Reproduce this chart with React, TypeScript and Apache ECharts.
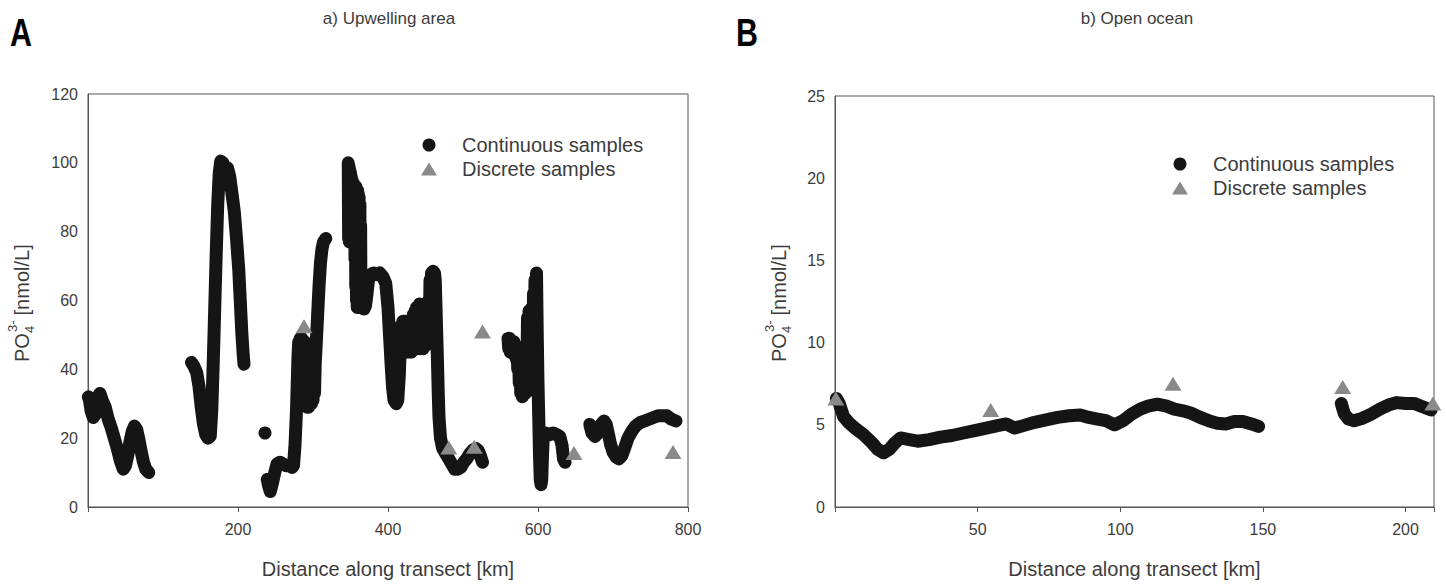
import React, { useEffect, useRef } from "react";
import * as echarts from "echarts";

const FONT = "'Liberation Sans', Arial, Helvetica, sans-serif";
const TEXT = "#3c3c3c";
const AXIS = "#555555";
const DOT = "#151515";
const TRI = "#8a8a8a";

// ---------- Panel A: Upwelling area ----------
const upwellingXTicks = [0, 200, 400, 600, 800];
const upwellingYTicks = [0, 20, 40, 60, 80, 100, 120];

const upwellingSeg1 = [
  [0.5, 32], [2, 31], [4, 28], [7, 26], [10, 27], [13, 32], [16, 33], [19, 31], [23, 29],
  [27, 25.5], [31, 23], [35, 20], [39, 17], [43, 13.5], [47, 11], [50, 12], [53, 15],
  [56, 19], [59, 22], [62, 23.5], [65, 22.5], [68, 19.5], [71, 16], [74, 13], [77, 11],
  [81, 10],
];
const upwellingSeg2 = [
  [138, 42], [141, 41], [145, 39], [148, 35], [151, 29], [154, 24], [157, 21], [160, 20],
  [163, 20.5], [165, 28], [167, 42], [169, 58], [171, 74], [173, 88], [175, 97], [177, 100.5],
  [180, 100], [183, 98], [186, 98.5], [189, 96], [192, 91], [195, 86], [198, 78], [201, 69],
  [203, 60], [205, 51], [207, 44], [208, 41.5],
];
const upwellingIsolated = [[236, 21.5]];
const upwellingSeg4 = [
  [239, 8], [241, 6], [243, 4.5], [246, 7], [249, 10], [252, 12.5], [256, 13],
  [260, 12.5], [264, 12], [268, 12], [272, 11.5], [274, 12], [276, 18], [278, 28], [279, 36],
  [280, 44], [281, 48], [282, 36], [283, 49], [284, 34], [285, 49], [286, 32], [287, 48],
  [288, 31], [289, 48], [290, 30], [291, 47], [292, 29], [293, 46], [294, 29], [295, 44],
  [296, 30], [297, 43], [298, 30], [299, 40], [300, 31], [301, 38], [302, 33], [303, 42],
  [304, 46], [306, 55], [308, 64], [310, 71], [312, 75], [314, 77], [317, 78],
];
const upwellingSeg5 = [
  [347, 100], [347.5, 78], [348, 99], [348.5, 77], [349, 98], [349.5, 77], [350, 97],
  [350.5, 77], [351, 96], [351.5, 77], [352, 95], [352.5, 77], [353, 94], [353.5, 78],
  [354, 94], [355, 80], [355.5, 93], [356, 72], [356.5, 93], [357, 64], [357.5, 93], [358, 60],
  [358.5, 92], [359, 58], [359.5, 92], [360, 58], [360.5, 91], [361, 58], [361.5, 90],
  [362, 58], [362.5, 88], [363, 58], [363.5, 82], [364, 58], [365, 66], [366, 58],
  [368, 57.5], [370, 58.5], [372, 62], [374, 66], [377, 67.5], [381, 68],
  [385, 67.5], [389, 68], [393, 67], [397, 65], [400, 58], [402, 50], [404, 42], [406, 35],
  [408, 31], [411, 30], [413, 31], [415, 38], [416, 44], [417, 50], [418, 53], [419, 46],
  [420, 54], [421, 46], [422, 54], [423, 45], [424, 54], [425, 46], [426, 53], [427, 45],
  [428, 52], [429, 46], [430, 50], [431, 45], [432, 53], [433, 46], [434, 56], [435, 46],
  [436, 57], [437, 47], [438, 58], [439, 46], [440, 58], [441, 47], [442, 59], [443, 46],
  [444, 58], [445, 47], [446, 58], [447, 46], [448, 57], [449, 47], [450, 58], [451, 47],
  [452, 56], [453, 48], [454, 60], [455, 50], [456, 66], [457, 55], [458, 68], [460, 68.5],
  [462, 68], [463, 66], [464, 58], [465, 50], [466, 42], [467, 33], [468, 26], [470, 20],
  [473, 17], [477, 15.5], [481, 14], [485, 12.5], [489, 11], [493, 11], [497, 11.5],
  [501, 13], [505, 14], [509, 15.5], [513, 16.5], [517, 17], [520, 16.5], [523, 15], [526, 13],
];
const upwellingSeg6 = [
  [560, 49], [561, 46], [562, 49], [563, 45], [564, 48.5], [565, 45], [566, 48], [567, 44.5],
  [568, 48], [569, 44], [570, 47], [571, 43], [572, 46], [573, 40], [574, 45], [575, 36],
  [576, 43], [577, 33], [578, 40], [579, 32], [580, 37], [581, 33], [582, 36], [583, 33],
  [584, 45], [585, 34], [586, 55], [587, 35], [588, 57], [589, 36], [590, 56], [591, 34],
  [592, 58], [593, 40], [594, 62], [595, 45], [596, 66], [597, 55], [598, 68], [599, 50],
  [600, 36], [601, 26], [602, 15], [603, 8], [604, 6.5], [605, 8], [606, 15], [607, 20],
  [610, 21.5], [615, 21], [620, 21.5], [625, 21], [629, 20.5], [632, 18], [634, 14], [636, 13],
];
const upwellingSeg7 = [
  [669, 24], [672, 21.5], [676, 20.5], [680, 21.5], [684, 24], [688, 25], [691, 24], [694, 21],
  [697, 18], [700, 16], [704, 14.5], [708, 14], [712, 15], [716, 17.5], [720, 20], [725, 22],
  [730, 23.5], [736, 24.5], [742, 25], [748, 25.5], [754, 26], [760, 26.5], [766, 26.5],
  [772, 26.5], [778, 25.5], [784, 25],
];
const upwellingDiscrete = [
  [288, 52.5], [481, 17.3], [515, 17.5], [526, 51], [648, 15.7], [780, 16],
];

// ---------- Panel B: Open ocean ----------
const oceanXTicks = [0, 50, 100, 150, 200];
const oceanXMax = 210;
const oceanYTicks = [0, 5, 10, 15, 20, 25];

const oceanSeg1 = [
  [0.5, 6.6], [1.5, 6.3], [3, 5.5], [5, 5.1], [7, 4.8], [10, 4.4], [13, 3.9], [15, 3.5],
  [17, 3.3], [19, 3.5], [21, 3.9], [23, 4.2], [26, 4.1], [29, 4.0], [33, 4.1], [37, 4.25],
  [41, 4.35], [45, 4.5], [49, 4.65], [53, 4.8], [57, 4.95], [60, 5.05], [63, 4.8], [66, 4.95],
  [70, 5.15], [74, 5.3], [78, 5.45], [82, 5.55], [86, 5.6], [89, 5.45], [92, 5.35], [95, 5.25],
  [98, 5.0], [101, 5.25], [104, 5.65], [107, 5.95], [110, 6.15], [113, 6.25], [116, 6.15],
  [119, 5.95], [122, 5.85], [125, 5.7], [128, 5.45], [131, 5.25], [134, 5.1], [137, 5.05],
  [140, 5.2], [143, 5.2], [146, 5.05], [148.5, 4.9],
];
const oceanSeg2 = [
  [177.5, 6.3], [178.5, 5.7], [180, 5.35], [182, 5.25], [185, 5.4], [188, 5.65], [191, 5.95],
  [194, 6.2], [197, 6.35], [200, 6.3], [203, 6.3], [206, 6.1], [209, 5.9],
];
const oceanDiscrete = [
  [0.3, 6.6], [54.6, 5.9], [118.5, 7.5], [178, 7.3], [209.6, 6.3],
];

const CONT = "Continuous samples";
const DISC = "Discrete samples";

function lineSeries(seg: number[][], idx: number, width: number) {
  return {
    type: "line",
    name: CONT,
    xAxisIndex: idx,
    yAxisIndex: idx,
    data: seg,
    showSymbol: false,
    symbol: "circle",
    smooth: false,
    lineStyle: { width, color: DOT, cap: "round", join: "round", opacity: 1 },
    itemStyle: { color: DOT },
    silent: true,
    z: 2,
  };
}

function xAxis(idx: number, ticks: number[], max: number) {
  const step = ticks[1] - ticks[0];
  return {
    type: "value",
    gridIndex: idx,
    min: ticks[0],
    max,
    interval: step,
    axisLine: { show: true, onZero: false, lineStyle: { color: AXIS, width: 1 } },
    axisTick: { show: true, inside: false, length: 5, lineStyle: { color: AXIS } },
    axisLabel: {
      color: TEXT,
      fontSize: 16,
      fontFamily: FONT,
      margin: 14,
      formatter: (v: number) => (v === 0 || ticks.indexOf(v) < 0 ? "" : String(v)),
    },
    splitLine: { show: false },
    name: "Distance along transect [km]",
    nameLocation: "middle",
    nameGap: 52,
    nameTextStyle: { color: TEXT, fontSize: 20, fontFamily: FONT },
  };
}

function yAxis(idx: number, ticks: number[]) {
  return {
    type: "value",
    gridIndex: idx,
    min: ticks[0],
    max: ticks[ticks.length - 1],
    interval: ticks[1] - ticks[0],
    axisLine: { show: true, onZero: false, lineStyle: { color: AXIS, width: 1 } },
    axisTick: { show: false },
    axisLabel: { color: TEXT, fontSize: 16, fontFamily: FONT, margin: 10 },
    splitLine: { show: false },
  };
}

function legend(left: number, top: number) {
  return {
    left,
    top,
    orient: "vertical",
    padding: 0,
    itemWidth: 16,
    itemHeight: 13,
    itemGap: 4,
    selectedMode: false,
    data: [
      { name: CONT, icon: "circle", itemStyle: { color: DOT } },
      { name: DISC, icon: "triangle", itemStyle: { color: TRI } },
    ],
    textStyle: { color: TEXT, fontSize: 20, fontFamily: FONT, padding: [0, 0, 0, 20] },
  };
}

function yName(cx: number, cy: number) {
  return {
    type: "group",
    x: cx,
    y: cy,
    rotation: Math.PI / 2,
    silent: true,
    children: [
      { type: "text", x: -58, y: 0, style: { text: "PO", fontSize: 20, fontFamily: FONT, fill: TEXT, align: "left", verticalAlign: "middle" } },
      { type: "text", x: -29, y: 7, style: { text: "4", fontSize: 13, fontFamily: FONT, fill: TEXT, align: "left", verticalAlign: "middle" } },
      { type: "text", x: -28, y: -10, style: { text: "3-", fontSize: 13, fontFamily: FONT, fill: TEXT, align: "left", verticalAlign: "middle" } },
      { type: "text", x: -17, y: 0, style: { text: " [nmol/L]", fontSize: 20, fontFamily: FONT, fill: TEXT, align: "left", verticalAlign: "middle" } },
    ],
  };
}

export default function App() {
  const ref = useRef<HTMLDivElement>(null);

  useEffect(() => {
    if (!ref.current) return;
    const chart = echarts.init(ref.current, undefined, { renderer: "svg" });
    const upSegs = [upwellingSeg1, upwellingSeg2, upwellingSeg4, upwellingSeg5, upwellingSeg6, upwellingSeg7];
    const ocSegs = [oceanSeg1, oceanSeg2];
    const option: any = {
      animation: false,
      backgroundColor: "#ffffff",
      textStyle: { fontFamily: FONT },
      grid: [
        { left: 88, top: 94, width: 600, height: 420, show: true, borderColor: AXIS, borderWidth: 1, backgroundColor: "transparent" },
        { left: 835, top: 96, width: 599, height: 418, show: true, borderColor: AXIS, borderWidth: 1, backgroundColor: "transparent" },
      ],
      xAxis: [xAxis(0, upwellingXTicks, upwellingXTicks[upwellingXTicks.length - 1]), xAxis(1, oceanXTicks, oceanXMax)],
      yAxis: [yAxis(0, upwellingYTicks), yAxis(1, oceanYTicks)],
      legend: [legend(421, 135), legend(1172, 154)],
      graphic: [
        { type: "text", x: 10, y: 14, scaleX: 0.8, style: { text: "A", fontSize: 38, fontWeight: "bold", fontFamily: FONT, fill: "#000" } },
        { type: "text", x: 736, y: 14, scaleX: 0.8, style: { text: "B", fontSize: 38, fontWeight: "bold", fontFamily: FONT, fill: "#000" } },
        { type: "text", x: 389, y: 18, style: { text: "a) Upwelling area", fontSize: 17, fontFamily: FONT, fill: TEXT, align: "center", verticalAlign: "middle" } },
        { type: "text", x: 1137, y: 18, style: { text: "b) Open ocean", fontSize: 17, fontFamily: FONT, fill: TEXT, align: "center", verticalAlign: "middle" } },
        yName(22, 304),
        yName(779, 304),
      ],
      series: [
        ...upSegs.map((s) => lineSeries(s, 0, 13)),
        {
          type: "scatter", name: CONT, xAxisIndex: 0, yAxisIndex: 0, data: upwellingIsolated,
          symbol: "circle", symbolSize: 13, itemStyle: { color: DOT, opacity: 1 }, silent: true, z: 2,
        },
        {
          type: "scatter", name: DISC, xAxisIndex: 0, yAxisIndex: 0, data: upwellingDiscrete,
          symbol: "triangle", symbolSize: [17, 14], itemStyle: { color: TRI, opacity: 1 }, silent: true, z: 3,
        },
        ...ocSegs.map((s) => lineSeries(s, 1, 13)),
        {
          type: "scatter", name: DISC, xAxisIndex: 1, yAxisIndex: 1, data: oceanDiscrete,
          symbol: "triangle", symbolSize: [17, 14], itemStyle: { color: TRI, opacity: 1 }, silent: true, z: 3, clip: false,
        },
      ],
    };
    chart.setOption(option);
    return () => chart.dispose();
  }, []);

  return (
    <div
      ref={ref}
      style={{ position: "fixed", left: 0, top: 0, width: 1446, height: 584, background: "#fff" }}
    />
  );
}
